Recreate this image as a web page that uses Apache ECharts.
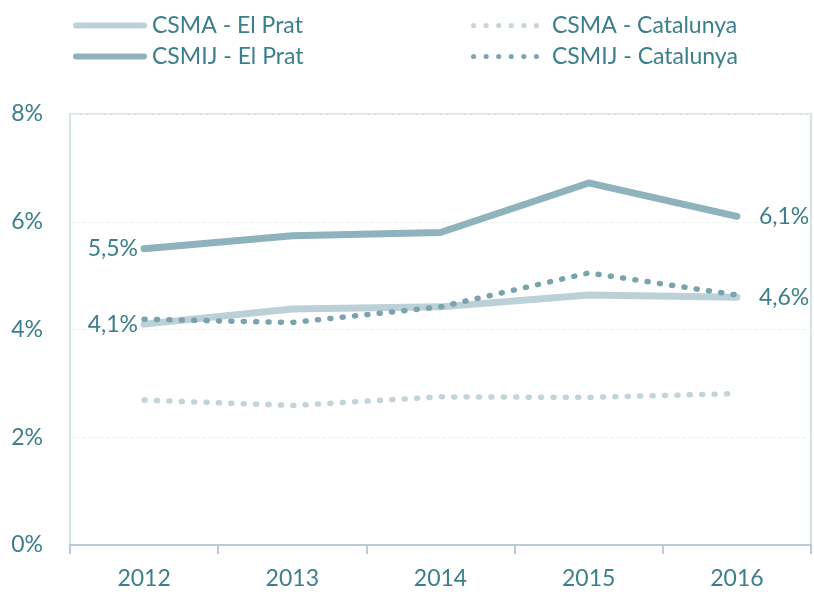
<!DOCTYPE html>
<html>
<head>
<meta charset="utf-8">
<script src="https://cdn.jsdelivr.net/npm/echarts@6/dist/echarts.min.js"></script>
<style>
  html, body { margin: 0; padding: 0; background: #ffffff; }
  #chart { width: 814px; height: 592px; }
</style>
</head>
<body>
<div id="chart"></div>
<script>
// Years on the category axis
const years = ['2012', '2013', '2014', '2015', '2016'];

// Percentages per year
const csmaPrat = [4.1, 4.38, 4.42, 4.64, 4.6];
const csmijPrat = [5.5, 5.74, 5.8, 6.72, 6.1];
const csmaCat = [2.69, 2.59, 2.75, 2.74, 2.81];
const csmijCat = [4.19, 4.13, 4.42, 5.05, 4.64];

// Y axis range (percent)
const yMin = 0, yMax = 8, yStep = 2;

const textColor = '#3b7f8c';
const fontFamily = 'Lato';
const fmt = v => v.toFixed(1).replace('.', ',') + '%';

// Legend icons: a rounded bar for solid lines, a row of dots for dotted lines
const barIcon = 'path://M3,0L71,0A3,3 0 0 1 71,6L3,6A3,3 0 0 1 3,0Z';
let dotPath = '';
for (let i = 0; i < 6; i++) {
  const cx = 3 + i * 12.6;
  dotPath += 'M' + (cx - 2.6) + ',3A2.6,2.6 0 1 0 ' + (cx + 2.6) + ',3A2.6,2.6 0 1 0 ' + (cx - 2.6) + ',3Z';
}
const dotIcon = 'path://' + dotPath;

// Labels only on the first and last point of the El Prat lines
function withEndLabels(values) {
  return values.map((v, i) => {
    if (i === 0) {
      return { value: v, label: { show: true, position: 'left', distance: 6, formatter: fmt(v) } };
    }
    if (i === values.length - 1) {
      return { value: v, label: { show: true, position: 'right', distance: 22, formatter: fmt(v) } };
    }
    return v;
  });
}

const labelStyle = { show: false, color: textColor, fontSize: 23, fontFamily: fontFamily };
const legendText = { color: textColor, fontSize: 23, fontFamily: fontFamily };

const chart = echarts.init(document.getElementById('chart'), null, { renderer: 'canvas' });
chart.setOption({
  backgroundColor: '#ffffff',
  animation: false,
  textStyle: { fontFamily: fontFamily },
  grid: {
    left: 70, right: 3, top: 114, bottom: 47,
    show: true, borderColor: '#d6e4e8', borderWidth: 2, backgroundColor: 'transparent'
  },
  legend: [
    {
      orient: 'vertical', left: 68, top: 9,
      itemWidth: 74, itemHeight: 6, itemGap: 8,
      textStyle: legendText,
      data: [
        { name: 'CSMA - El Prat', icon: barIcon, itemStyle: { color: '#bcd1d7' } },
        { name: 'CSMIJ - El Prat', icon: barIcon, itemStyle: { color: '#8eb3bd' } }
      ]
    },
    {
      orient: 'vertical', left: 466, top: 9,
      itemWidth: 68, itemHeight: 6, itemGap: 8,
      textStyle: Object.assign({ padding: [0, 0, 0, 8] }, legendText),
      data: [
        { name: 'CSMA - Catalunya', icon: dotIcon, itemStyle: { color: '#c5d6db' } },
        { name: 'CSMIJ - Catalunya', icon: dotIcon, itemStyle: { color: '#7fa7b2' } }
      ]
    }
  ],
  xAxis: {
    type: 'category',
    data: years,
    boundaryGap: true,
    axisLine: { lineStyle: { color: '#b7cdd3', width: 2 } },
    axisTick: { show: true, length: 9, lineStyle: { color: '#b7cdd3', width: 2 } },
    axisLabel: { color: textColor, fontSize: 23, fontFamily: fontFamily, margin: 22 },
    splitLine: { show: false }
  },
  yAxis: {
    type: 'value',
    min: yMin, max: yMax, interval: yStep,
    axisLine: { show: true, lineStyle: { color: '#d6e4e8', width: 2 } },
    axisTick: { show: false },
    axisLabel: {
      color: textColor, fontSize: 23, fontFamily: fontFamily, margin: 27,
      formatter: v => v + '%'
    },
    splitLine: { show: true, lineStyle: { color: '#eef3f5', width: 1, type: 'dashed' } }
  },
  series: [
    {
      name: 'CSMA - Catalunya', type: 'line', data: csmaCat,
      symbol: 'none', z: 2,
      lineStyle: { color: '#c2d4d9', width: 5.5, type: [1, 11.4], cap: 'round' },
      itemStyle: { color: '#c5d6db' }
    },
    {
      name: 'CSMA - El Prat', type: 'line', data: withEndLabels(csmaPrat),
      symbol: 'circle', symbolSize: 0.1, showSymbol: true, z: 3,
      lineStyle: { color: '#bcd1d7', width: 7, cap: 'round', join: 'round' },
      itemStyle: { color: '#bcd1d7' },
      label: labelStyle
    },
    {
      name: 'CSMIJ - Catalunya', type: 'line', data: csmijCat,
      symbol: 'none', z: 4,
      lineStyle: { color: '#7aa3ae', width: 5.5, type: [1, 11.4], cap: 'round' },
      itemStyle: { color: '#7fa7b2' }
    },
    {
      name: 'CSMIJ - El Prat', type: 'line', data: withEndLabels(csmijPrat),
      symbol: 'circle', symbolSize: 0.1, showSymbol: true, z: 5,
      lineStyle: { color: '#8eb3bd', width: 7, cap: 'round', join: 'round' },
      itemStyle: { color: '#8eb3bd' },
      label: labelStyle
    }
  ]
});
</script>
</body>
</html>
